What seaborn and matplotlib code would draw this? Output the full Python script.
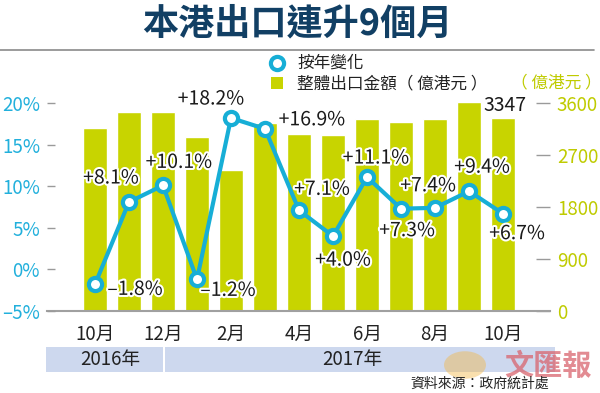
import matplotlib
matplotlib.use("Agg")
import matplotlib.pyplot as plt
import matplotlib.patheffects as pe
import matplotlib.transforms as mtrans
from matplotlib.lines import Line2D
from matplotlib.patches import Rectangle, Circle
import seaborn as sns
import pandas as pd

# data
months = ["10月", "11月", "12月", "1月", "2月", "3月", "4月", "5月", "6月", "7月", "8月", "9月", "10月"]
exports = [3173, 3445, 3445, 3007, 2441, 3254, 3064, 3047, 3329, 3277, 3329, 3618, 3347]
yoy = [-1.8, 8.1, 10.1, -1.2, 18.2, 16.9, 7.1, 4.0, 11.1, 7.3, 7.4, 9.4, 6.7]
pct_ticks = [-5, 0, 5, 10, 15, 20]
amt_ticks = [0, 900, 1800, 2700, 3600]
years = ["2016年", "2017年"]

# label offsets in pixels (dx, dy) relative to each point
label_off = [(40, -5), (-18, 24), (16, 23), (31, -11), (-20, 19), (47, 9), (23, 21),
             (10, -24), (9, 19), (6, -22), (-7, 22), (13, 24), (14, -20)]

CYAN = "#17AED6"
GREEN = "#C8D400"
NAVY = "#113F64"
BAND = "#CDD8EE"
CJK = ["Noto Sans CJK TC", "DejaVu Sans"]

sns.set_theme(style="white")
plt.rcParams["font.family"] = ["Liberation Sans Narrow", "Noto Sans CJK TC", "DejaVu Sans"]

df = pd.DataFrame({"pos": range(len(months)), "month": months, "exports": exports, "yoy": yoy})

fig = plt.figure(figsize=(6, 3.93), dpi=100)
ax = fig.add_axes([47 / 600, 1 - 311 / 393, 503 / 600, (311 - 86.4) / 393])
ax2 = ax.twinx()

# bars -> right scale, line -> left scale
sns.barplot(data=df, x="pos", y="exports", color=GREEN, saturation=1, width=0.7, ax=ax)
sns.lineplot(data=df, x="pos", y="yoy", ax=ax2, color=CYAN, lw=3, marker="o", ms=9.5,
             mfc="white", mec=CYAN, mew=3)

ax.set_xlim(-1.41, 13.38)
ax.set_ylim(0, 3888)
ax2.set_ylim(-5, 22)

ax.yaxis.tick_right()
ax.set_yticks(amt_ticks)
ax.set_yticklabels([str(t) for t in amt_ticks])
ax.tick_params(axis="y", direction="in", length=10, width=1, color="#9a9a9a",
               labelcolor="#BFCB00", labelsize=13.5, pad=5, right=True, left=False)
ax2.yaxis.tick_left()
ax2.set_yticks(pct_ticks)
ax2.set_yticklabels([f"{t}%" if t >= 0 else f"–{abs(t)}%" for t in pct_ticks])
ax2.tick_params(axis="y", direction="in", length=6, width=1, color="#9a9a9a",
                labelcolor="#22B0DC", labelsize=13.5, pad=5, left=True, right=False)

ax.set_xticks(df["pos"][::2])
ax.set_xticklabels(months[::2])
ax.tick_params(axis="x", length=0, labelsize=13.5, pad=9, labelcolor="#222222")
for a in (ax, ax2):
    a.set_xlabel("")
    a.set_ylabel("")
    for s in a.spines.values():
        s.set_visible(False)
ax.spines["bottom"].set_visible(True)
ax.spines["bottom"].set_color("#a0a0a0")
ax.spines["bottom"].set_linewidth(1.5)

stroke = [pe.withStroke(linewidth=3, foreground="white")]
for i, v in enumerate(yoy):
    txt = f"+{v:.1f}%" if v >= 0 else f"–{abs(v):.1f}%"
    ax2.annotate(txt, (i, v), xytext=label_off[i], textcoords="offset pixels",
                 ha="center", va="center", fontsize=14, color="#1a1a1a",
                 path_effects=stroke, zorder=5)
ax.annotate(str(exports[-1]), (len(exports) - 1, exports[-1]), xytext=(2, 12),
            textcoords="offset pixels", ha="center", va="center", fontsize=14,
            color="#1a1a1a")

# year band under the axis
tr = mtrans.blended_transform_factory(ax.transData, fig.transFigure)
y0, y1 = 1 - 372 / 393, 1 - 347 / 393
fig.add_artist(Rectangle((-1.43, y0), 3.43, y1 - y0, transform=tr, color=BAND, lw=0))
fig.add_artist(Rectangle((2.07, y0), 11.45, y1 - y0, transform=tr, color=BAND, lw=0))
fig.text(0.44, 1 - 359 / 393, years[0], transform=tr, ha="center", va="center",
         fontsize=13.5, color="#222222")
fig.text(7.56, 1 - 359 / 393, years[1], transform=tr, ha="center", va="center",
         fontsize=13.5, color="#222222")

# title and rule
fig.text(297 / 600, 1 - 24 / 393, "本港出口連升9個月", ha="center", va="center",
         fontsize=26, fontweight="heavy", color=NAVY, family=CJK)
fig.add_artist(Line2D([0, 594 / 600], [1 - 50 / 393] * 2, color="#8a8a8a", lw=1.2))

# legend
fig.add_artist(Line2D([277 / 600], [1 - 63 / 393], marker="o", ms=9.5, mfc="white",
                      mec=CYAN, mew=3, ls="none"))
fig.add_artist(Rectangle((271 / 600, 1 - 89 / 393), 12 / 600, 12 / 393, color=GREEN, lw=0))
fig.text(297 / 600, 1 - 63 / 393, "按年變化", ha="left", va="center", fontsize=12,
         color="#222222", family=CJK)
fig.text(297 / 600, 1 - 84 / 393, "整體出口金額（ 億港元 ）", ha="left", va="center",
         fontsize=12, color="#222222", family=CJK)
fig.text(556 / 600, 1 - 83 / 393, "（ 億港元 ）", ha="center", va="center", fontsize=12,
         color="#BFCB00", family=CJK)

# watermark and source
fig.add_artist(Circle((465 / 600, 1 - 365 / 393), 0.035, transform=fig.transFigure,
                      color="#F2B84B", alpha=0.45, lw=0))
fig.text(548 / 600, 1 - 366 / 393, "文匯報", ha="center", va="center", fontsize=21,
         fontweight="bold", color="#D9646E", alpha=0.75, family=["Noto Sans CJK TC"])
fig.text(480 / 600, 1 - 384 / 393, "資料來源：政府統計處", ha="center", va="center",
         fontsize=10, color="#222222", family=CJK)

fig.savefig("out.png", dpi=100)
